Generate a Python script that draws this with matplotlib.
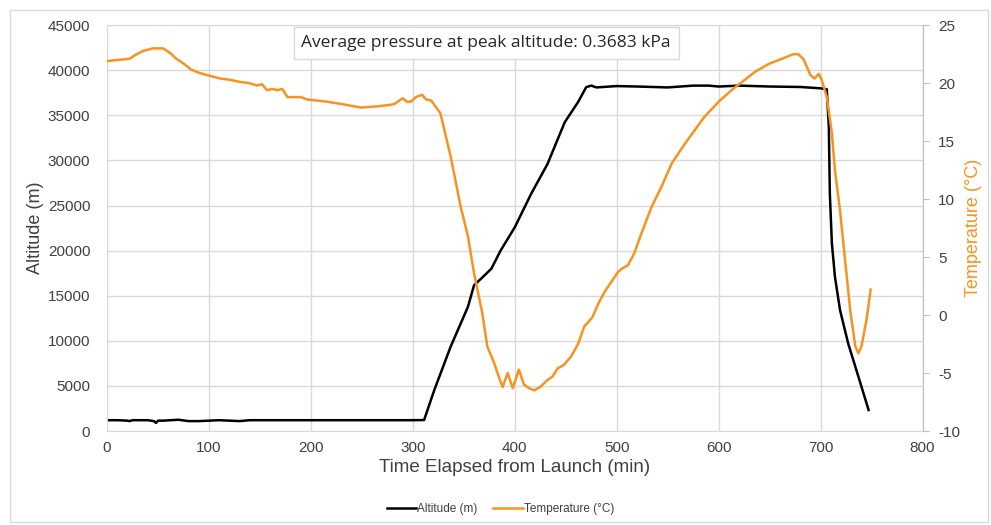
import matplotlib
matplotlib.use('Agg')
import matplotlib.pyplot as plt
from matplotlib.patches import Rectangle

plt.rcParams['font.family'] = ['Liberation Sans', 'DejaVu Sans']
plt.rcParams['axes.unicode_minus'] = False

# altitude trace (min, m)
alt_t = [0, 10, 20, 22, 25, 40, 46, 48, 50, 55,
         70, 80, 90, 100, 110, 130, 140, 200, 300, 311,
         321, 337, 354, 360, 367, 377, 386, 400, 416, 432,
         449, 462, 470, 475, 480, 500, 520, 550, 575, 590,
         600, 620, 650, 680, 700, 706, 708, 709, 711, 714,
         719, 727, 736, 747]
alt_m = [1200, 1200, 1150, 1100, 1200, 1200, 1100, 900, 1150, 1150,
         1250, 1100, 1100, 1150, 1200, 1100, 1200, 1200, 1200, 1220,
         4540, 9340, 13770, 16170, 16900, 18000, 20000, 22600, 26300, 29600,
         34250, 36470, 38130, 38300, 38100, 38250, 38200, 38100, 38300, 38300,
         38200, 38300, 38200, 38150, 38000, 37900, 33700, 26300, 20800, 17100,
         13400, 9700, 6400, 2330]

# temperature trace (min, deg C)
temp_t = [0, 10, 22, 27, 36, 45, 49, 55, 62, 68,
          75, 82, 90, 98, 111, 120, 131, 140, 147, 152,
          157, 162, 167, 172, 177, 190, 196, 216, 230, 249,
          265, 275, 282, 290, 294, 298, 303, 309, 313, 318,
          327, 337, 347, 354, 360, 368, 373, 380, 385, 388,
          393, 398, 404, 409, 414, 419, 425, 432, 437, 442,
          448, 455, 462, 468, 476, 482, 488, 495, 501, 505,
          511, 517, 524, 534, 544, 554, 567, 586, 601, 614,
          636, 650, 662, 673, 678, 683, 690, 694, 698, 701,
          706, 711, 714, 719, 724, 729, 734, 737, 740, 745,
          749]
temp_c = [21.9, 22.0, 22.1, 22.4, 22.8, 23.0, 23.0, 23.0, 22.6, 22.1,
          21.7, 21.2, 20.9, 20.7, 20.4, 20.3, 20.1, 20.0, 19.8, 19.9,
          19.4, 19.5, 19.4, 19.5, 18.8, 18.8, 18.6, 18.4, 18.2, 17.9,
          18.0, 18.1, 18.2, 18.7, 18.4, 18.4, 18.8, 19.0, 18.6, 18.5,
          17.4, 13.7, 9.3, 6.8, 3.6, 0.2, -2.7, -4.2, -5.5, -6.2,
          -5.0, -6.3, -4.7, -6.0, -6.3, -6.5, -6.2, -5.6, -5.3, -4.6,
          -4.3, -3.6, -2.5, -1.0, -0.2, 1.0, 2.0, 2.9, 3.7, 4.0,
          4.3, 5.3, 7.0, 9.3, 11.1, 13.1, 14.8, 17.1, 18.5, 19.5,
          21.0, 21.7, 22.1, 22.5, 22.5, 22.1, 20.7, 20.4, 20.8, 20.3,
          18.8, 15.7, 12.5, 9.0, 4.7, 0.4, -2.7, -3.3, -2.7, -0.4,
          2.2]

x_ticks = list(range(0, 801, 100))
alt_ticks = list(range(0, 45001, 5000))
temp_ticks = list(range(-10, 26, 5))

orange = '#F7931E'
txt = '#404040'
grid = '#d9d9d9'

fig = plt.figure(figsize=(9.91, 5.25), dpi=100)
fig.patches.append(Rectangle((0.010, 0.006), 0.987, 0.975, transform=fig.transFigure,
                             fill=False, ec=grid, lw=1))

ax = fig.add_axes([0.108, 0.179, 0.823, 0.773])
l1, = ax.plot(alt_t, alt_m, color='black', lw=1.8, label='Altitude (m)')
ax.set_xlim(0, 800)
ax.set_ylim(0, 45000)
ax.set_xticks(x_ticks)
ax.set_yticks(alt_ticks)
ax.grid(color=grid, lw=1)
ax.set_axisbelow(True)
for s in ax.spines.values():
    s.set_color(grid)
ax.tick_params(length=0, labelsize=11, labelcolor=txt)
ax.tick_params(axis='y', pad=12)
ax.tick_params(axis='x', pad=7)
ax.set_xlabel('Time Elapsed from Launch (min)', fontsize=13.5, color=txt, labelpad=3)
ax.set_ylabel('Altitude (m)', fontsize=13, color=txt, labelpad=3)

ax2 = ax.twinx()
l2, = ax2.plot(temp_t, temp_c, color=orange, lw=1.8, label='Temperature (°C)')
ax2.set_ylim(-10, 25)
ax2.set_yticks(temp_ticks)
for s in ax2.spines.values():
    s.set_visible(False)
ax2.spines['right'].set_visible(True)
ax2.spines['right'].set_color('#bfbfbf')
ax2.tick_params(axis='y', length=4, color='#bfbfbf', labelsize=11, labelcolor=txt, pad=7)
ax2.set_ylabel('Temperature (°C)', fontsize=13, color=orange, labelpad=4)

fig.text(0.4905, 0.918, 'Average pressure at peak altitude: 0.3683 kPa',
         ha='center', va='center', fontsize=12.5, family=['Open Sans', 'DejaVu Sans'], color='#262626',
         bbox=dict(boxstyle='square,pad=0.45', fc='white', ec=grid, lw=1))

fig.legend(handles=[l1, l2], loc='center', bbox_to_anchor=(0.505, 0.031), ncol=2,
           frameon=False, fontsize=8.5, handlelength=2.5, handletextpad=0.1,
           columnspacing=1.3, labelcolor=txt)

fig.savefig('out.png', dpi=100)
